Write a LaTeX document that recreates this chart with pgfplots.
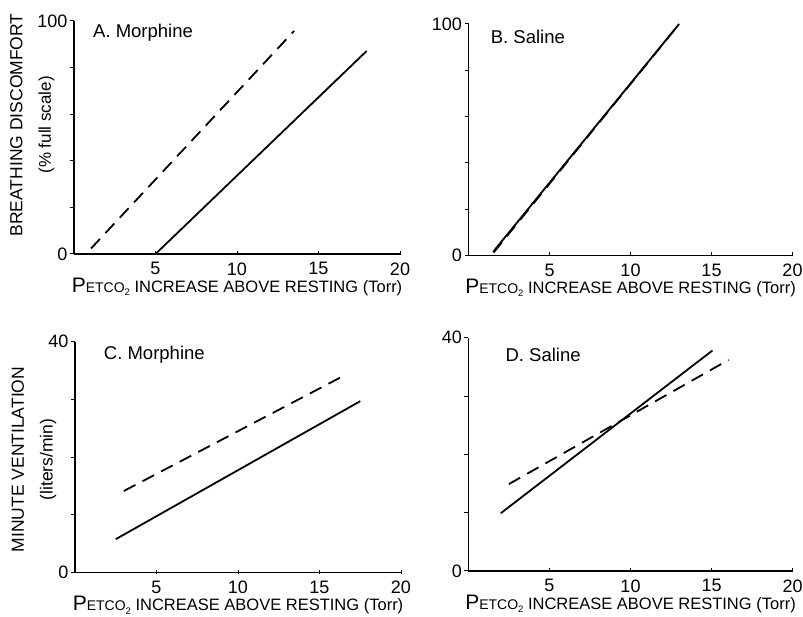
\documentclass[border=0pt]{standalone}
\usepackage{fontspec}
\setmainfont{Liberation Sans}
\usepackage{pgfplots}
\pgfplotsset{compat=1.18}

\newcommand{\fs}[1]{\fontsize{#1}{#1}\selectfont}
\newcommand{\petlabel}{{\fs{21}P\fs{14}ETCO\raisebox{-3.5pt}{\fs{9.5}2}\fs{16.5} INCREASE ABOVE RESTING (Torr)}}

\pgfplotsset{
  panel/.style={
    scale only axis,
    anchor=south west,
    axis lines=left,
    axis line style={-, line width=1.1pt},
    xmin=0, xmax=20,
    xtick={5,10,15,20},
    tick align=outside,
    major tick length=4pt,
    tick style={black, line width=1pt},
    x tick style={yshift=3pt},
    /pgf/number format/assume math mode=true,
    ticklabel style={font=\fs{18}},
    yticklabel style={xshift=1pt},
    xticklabel style={yshift=-1pt},
    xlabel={\petlabel},
    xlabel style={yshift=4.5pt},
    ylabel style={anchor=center, align=center},
    clip=false,
  },
  solid line/.style={black, line width=1.8pt},
  dash line/.style={black, line width=1.8pt, dash pattern=on 13pt off 8pt},
}

\begin{document}
\begin{tikzpicture}[x=1pt,y=1pt]
\useasboundingbox (0,0) rectangle (803,617);

% A. Morphine
\begin{axis}[panel, at={(74pt,363pt)}, width=326pt, height=233pt,
    ymin=0, ymax=100, ytick={0,20,...,100}, yticklabels={0,,,,,100},
    ylabel={\fs{17.5}BREATHING DISCOMFORT\\[15pt]\fs{17}(\% full scale)},
    ylabel style={at={(axis description cs:-0.128,0.554)}}]
\addplot[dash line] coordinates {(1.05,2.4) (13.5,95.7)};
\addplot[solid line] coordinates {(5,0) (17.95,87.1)};
\node[anchor=west, font=\fs{18.5}] at (rel axis cs:0.048,0.948) {A. Morphine};
\end{axis}

% B. Saline
\begin{axis}[panel, at={(468.5pt,361.7pt)}, width=324pt, height=231.3pt,
    ymin=0, ymax=100, ytick={0,20,...,100}, yticklabels={0,,,,,100}]
\addplot[solid line] coordinates {(1.52,1.5) (13.0,100)};
\addplot[dash line] coordinates {(1.55,1.2) (12.95,99.5)};
\node[anchor=west, font=\fs{18.5}] at (rel axis cs:0.058,0.945) {B. Saline};
\end{axis}

% C. Morphine
\begin{axis}[panel, at={(75pt,44.3pt)}, width=326pt, height=231pt,
    ymin=0, ymax=40, ytick={0,10,...,40}, yticklabels={0,,,,40},
    ylabel={\fs{17.5}MINUTE VENTILATION\\[15pt]\fs{17.5}(liters/min)},
    ylabel style={at={(axis description cs:-0.126,0.49)}}]
\addplot[dash line] coordinates {(3.0,14.15) (16.35,33.9)};
\addplot[solid line] coordinates {(2.5,5.8) (17.5,29.7)};
\node[anchor=west, font=\fs{18.5}] at (rel axis cs:0.078,0.942) {C. Morphine};
\end{axis}

% D. Saline
\begin{axis}[panel, at={(468.3pt,46pt)}, width=324.4pt, height=233.3pt,
    ymin=0, ymax=40, ytick={0,10,...,40}, yticklabels={0,,,,40}]
\addplot[solid line] coordinates {(2.0,9.9) (15.05,37.8)};
\addplot[dash line] coordinates {(2.5,14.9) (16.05,36.2)};
\node[anchor=west, font=\fs{18.5}] at (rel axis cs:0.104,0.926) {D. Saline};
\end{axis}
\end{tikzpicture}
\end{document}
